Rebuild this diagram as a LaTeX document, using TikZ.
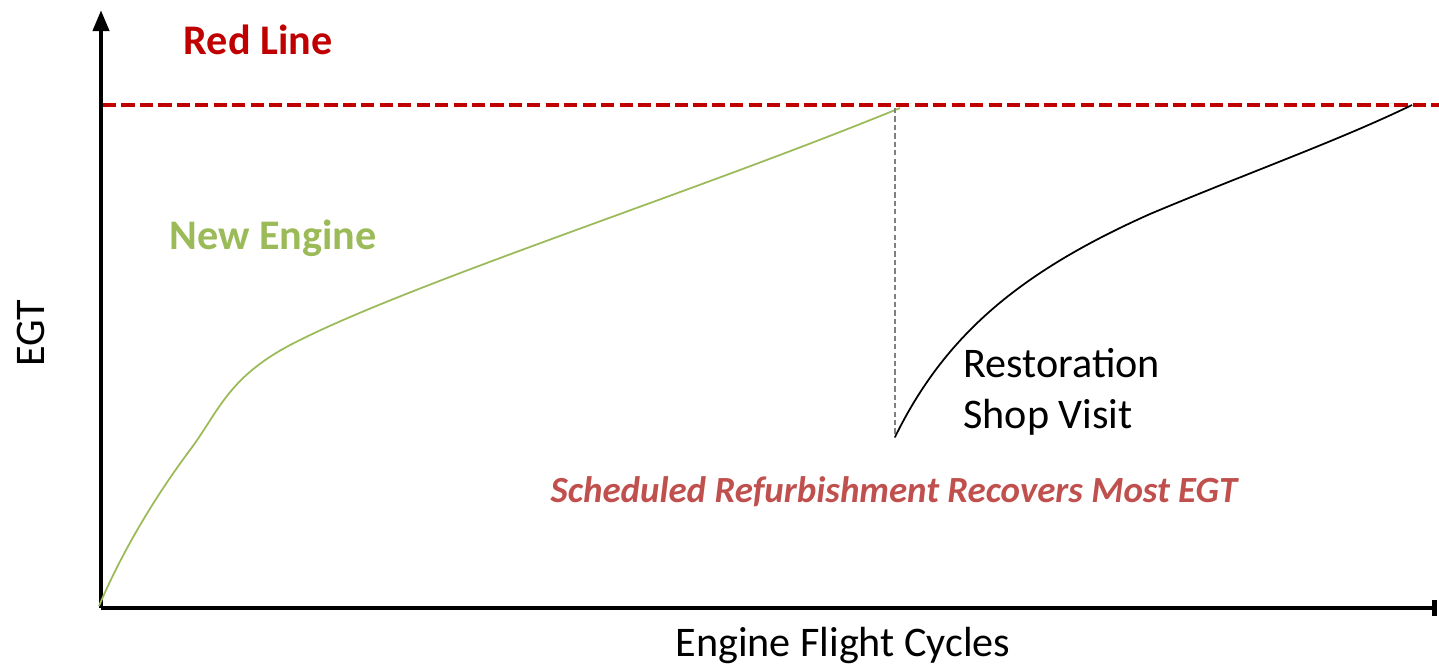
\documentclass[tikz,border=0pt]{standalone}
\usepackage{fontspec}
\setmainfont{Carlito}
\usetikzlibrary{arrows.meta}
\definecolor{redline}{HTML}{C00000}
\definecolor{newgreen}{HTML}{9BBB59}
\definecolor{refurb}{HTML}{C0504D}
\begin{document}
\begin{tikzpicture}[x=0.02cm, y=-0.02cm,
    axis/.style = {line width=2.6pt, black},
    label/.style = {font=\fontsize{24}{28}\selectfont, inner sep=0pt}
  ]
        \useasboundingbox (0, 0) rectangle (1439, 667);

        % ------------------------------------------------------------------------
        % Axes
        \coordinate (o) at (101, 608);
        \coordinate (ytop) at (101, 10);
        \coordinate (xend) at (1437, 608);

        \draw[axis, -{Triangle[length=12pt, width=9pt]}] (o) -- (ytop);
        \draw[axis, -{Bar[width=9pt]}] (o) -- (xend);

        \node[label, rotate=90] at (31, 333) (egt) {EGT};
        \node[label] at (843, 645) (cycles) {Engine Flight Cycles};

        % ------------------------------------------------------------------------
        % Red line
        \coordinate (rl) at (103, 105);
        \coordinate (rr) at (1439, 105);
        \draw[redline, line width=2.2pt, dash pattern=on 7.5pt off 3pt] (rl) -- (rr);
        \node[label, font=\fontsize{24}{28}\selectfont\bfseries, text=redline] at (258, 40) (red) {Red Line};

        % ------------------------------------------------------------------------
        % New engine
        \coordinate (n0) at (99, 606);
        \coordinate (top) at (900, 108);
        \draw[newgreen, line width=1pt]
          (n0) .. controls (125, 545) and (160, 490) .. (190, 450)
               .. controls (220, 410) and (228, 375) .. (300, 340)
               .. controls (420, 280) and (700, 190) .. (top)
        ;
        \node[label, font=\fontsize{24}{28}\selectfont\bfseries, text=newgreen] at (273, 238) (new) {New Engine};

        % ------------------------------------------------------------------------
        % Shop visit
        \coordinate (sv) at (895, 437);
        \coordinate (svtop) at (895, 108);
        \draw[gray, line width=1pt, dash pattern=on 3pt off 1.8pt] (svtop) -- (sv);
        \coordinate (end) at (1412, 105);
        \draw[black, line width=1pt]
          (sv) .. controls (945, 335) and (1020, 272) .. (1150, 214)
               .. controls (1250, 172) and (1340, 140) .. (end)
        ;
        \node[label, anchor=west, align=left, font=\fontsize{24}{29}\selectfont] at (963, 392) (shop) {Restoration\\Shop Visit};

        \node[label, font=\fontsize{21}{25}\selectfont\bfseries\itshape, text=refurb] at (894, 492) (recover) {Scheduled Refurbishment Recovers Most EGT};
      \end{tikzpicture}
\end{document}
